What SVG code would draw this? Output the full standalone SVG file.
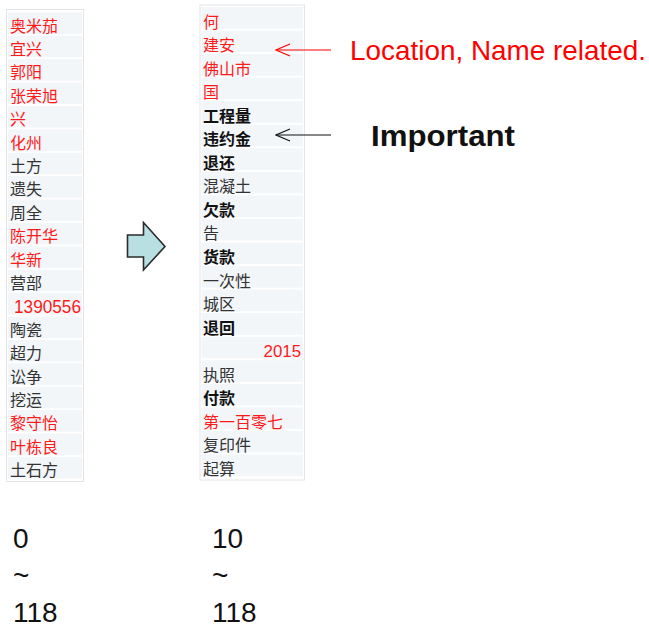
<svg xmlns="http://www.w3.org/2000/svg" width="649" height="628" viewBox="0 0 649 628">
<style>
.frame{fill:#ffffff;stroke:#e3e6e9;stroke-width:1}
.cell{fill:#f2f6f9}
.cj{font-family:"Noto Sans CJK SC","Noto Sans",sans-serif;font-size:16px}
.num{font-family:"Liberation Sans",Arial,sans-serif}
.red{fill:#ff1a1a}
.blk{fill:#333333}
.bold{font-weight:bold;fill:#111111}
.lbl{font-family:"Liberation Sans",Arial,sans-serif}
.conn{fill:none;stroke-width:1.1}
</style>
<defs>
<marker id="openR" viewBox="0 0 16 14" refX="1" refY="7" markerWidth="16" markerHeight="14" markerUnits="userSpaceOnUse" orient="auto">
<path d="M15,1 L1,7 L15,13" fill="none" stroke="#ff0000" stroke-width="1.1"/>
</marker>
<marker id="openK" viewBox="0 0 16 14" refX="1" refY="7" markerWidth="16" markerHeight="14" markerUnits="userSpaceOnUse" orient="auto">
<path d="M15,1 L1,7 L15,13" fill="none" stroke="#111111" stroke-width="1.1"/>
</marker>
</defs>
<rect width="649" height="628" fill="#ffffff"/>

<g id="left-table">
<rect class="frame" x="6.5" y="9.5" width="77" height="472"/>
<g class="cell">
<rect x="8" y="12.3" width="74" height="21.6"/>
<rect x="8" y="35.7" width="74" height="21.6"/>
<rect x="8" y="59.1" width="74" height="21.6"/>
<rect x="8" y="82.5" width="74" height="21.6"/>
<rect x="8" y="105.9" width="74" height="21.6"/>
<rect x="8" y="129.3" width="74" height="21.6"/>
<rect x="8" y="152.7" width="74" height="21.6"/>
<rect x="8" y="176.1" width="74" height="21.6"/>
<rect x="8" y="199.5" width="74" height="21.6"/>
<rect x="8" y="222.9" width="74" height="21.6"/>
<rect x="8" y="246.3" width="74" height="21.6"/>
<rect x="8" y="269.7" width="74" height="21.6"/>
<rect x="8" y="293.1" width="74" height="21.6"/>
<rect x="8" y="316.5" width="74" height="21.6"/>
<rect x="8" y="339.9" width="74" height="21.6"/>
<rect x="8" y="363.3" width="74" height="21.6"/>
<rect x="8" y="386.7" width="74" height="21.6"/>
<rect x="8" y="410.1" width="74" height="21.6"/>
<rect x="8" y="433.5" width="74" height="21.6"/>
<rect x="8" y="456.9" width="74" height="21.6"/>
</g>
<g class="cj">
<text x="10" y="31.6" class="red">奥米茄</text>
<text x="10" y="55" class="red">宜兴</text>
<text x="10" y="78.4" class="red">郭阳</text>
<text x="10" y="101.8" class="red">张荣旭</text>
<text x="10" y="125.2" class="red">兴</text>
<text x="10" y="148.6" class="red">化州</text>
<text x="10" y="172" class="blk">土方</text>
<text x="10" y="195.4" class="blk">遗失</text>
<text x="10" y="218.8" class="blk">周全</text>
<text x="10" y="242.2" class="red">陈开华</text>
<text x="10" y="265.6" class="red">华新</text>
<text x="10" y="289" class="blk">营部</text>
<text x="14" y="313.3" class="num red" font-size="18" textLength="67" lengthAdjust="spacingAndGlyphs">1390556</text>
<text x="10" y="335.8" class="blk">陶瓷</text>
<text x="10" y="359.2" class="blk">超力</text>
<text x="10" y="382.6" class="blk">讼争</text>
<text x="10" y="406" class="blk">挖运</text>
<text x="10" y="429.4" class="red">黎守怡</text>
<text x="10" y="452.8" class="red">叶栋良</text>
<text x="10" y="476.2" class="blk">土石方</text>
</g>
</g>

<g id="transform-arrow">
<polygon points="127.5,235 143.5,235 143.5,222.5 165,246.5 143.5,270 143.5,257 127.5,257" fill="#b8e0e3" stroke="#2b2b2b" stroke-width="1.6" stroke-linejoin="miter"/>
</g>

<g id="right-table">
<rect class="frame" x="200" y="5" width="104.5" height="475"/>
<g class="cell">
<rect x="201.5" y="7" width="101.5" height="21.6"/>
<rect x="201.5" y="30.55" width="101.5" height="21.6"/>
<rect x="201.5" y="54.1" width="101.5" height="21.6"/>
<rect x="201.5" y="77.65" width="101.5" height="21.6"/>
<rect x="201.5" y="101.2" width="101.5" height="21.6"/>
<rect x="201.5" y="124.75" width="101.5" height="21.6"/>
<rect x="201.5" y="148.3" width="101.5" height="21.6"/>
<rect x="201.5" y="171.85" width="101.5" height="21.6"/>
<rect x="201.5" y="195.4" width="101.5" height="21.6"/>
<rect x="201.5" y="218.95" width="101.5" height="21.6"/>
<rect x="201.5" y="242.5" width="101.5" height="21.6"/>
<rect x="201.5" y="266.05" width="101.5" height="21.6"/>
<rect x="201.5" y="289.6" width="101.5" height="21.6"/>
<rect x="201.5" y="313.15" width="101.5" height="21.6"/>
<rect x="201.5" y="336.7" width="101.5" height="21.6"/>
<rect x="201.5" y="360.25" width="101.5" height="21.6"/>
<rect x="201.5" y="383.8" width="101.5" height="21.6"/>
<rect x="201.5" y="407.35" width="101.5" height="21.6"/>
<rect x="201.5" y="430.9" width="101.5" height="21.6"/>
<rect x="201.5" y="454.45" width="101.5" height="21.6"/>
</g>
<g class="cj">
<text x="203" y="27.5" class="red">何</text>
<text x="203" y="51" class="red">建安</text>
<text x="203" y="74.6" class="red">佛山市</text>
<text x="203" y="98.1" class="red">国</text>
<text x="203" y="121.7" class="bold">工程量</text>
<text x="203" y="145.2" class="bold">违约金</text>
<text x="203" y="168.8" class="bold">退还</text>
<text x="203" y="192.3" class="blk">混凝土</text>
<text x="203" y="215.9" class="bold">欠款</text>
<text x="203" y="239.4" class="blk">告</text>
<text x="203" y="263" class="bold">货款</text>
<text x="203" y="286.5" class="blk">一次性</text>
<text x="203" y="310.1" class="blk">城区</text>
<text x="203" y="333.6" class="bold">退回</text>
<text x="301" y="357.3" class="num red" font-size="16" text-anchor="end" textLength="37.5" lengthAdjust="spacingAndGlyphs">2015</text>
<text x="203" y="380.7" class="blk">执照</text>
<text x="203" y="404.3" class="bold">付款</text>
<text x="203" y="427.8" class="red">第一百零七</text>
<text x="203" y="451.4" class="blk">复印件</text>
<text x="203" y="474.9" class="blk">起算</text>
</g>
</g>

<g id="connectors">
<line class="conn" x1="276" y1="50" x2="331" y2="50" stroke="#ff0000" marker-start="url(#openR)"/>
<line class="conn" x1="276" y1="135" x2="331" y2="135" stroke="#111111" marker-start="url(#openK)"/>
</g>

<g id="label-location">
<text x="350" y="60" class="lbl" font-size="27.5" fill="#ff0000" textLength="296" lengthAdjust="spacingAndGlyphs">Location, Name related.</text>
</g>
<g id="label-important">
<text x="371" y="146" class="lbl" font-size="30" font-weight="bold" fill="#111111" textLength="144" lengthAdjust="spacingAndGlyphs">Important</text>
</g>

<g id="range-left" class="lbl" font-size="28" fill="#111111">
<text x="13" y="548">0</text>
<text x="13" y="585">~</text>
<text x="13" y="622">118</text>
</g>
<g id="range-right" class="lbl" font-size="28" fill="#111111">
<text x="212" y="548">10</text>
<text x="212" y="585">~</text>
<text x="212" y="622">118</text>
</g>
</svg>
